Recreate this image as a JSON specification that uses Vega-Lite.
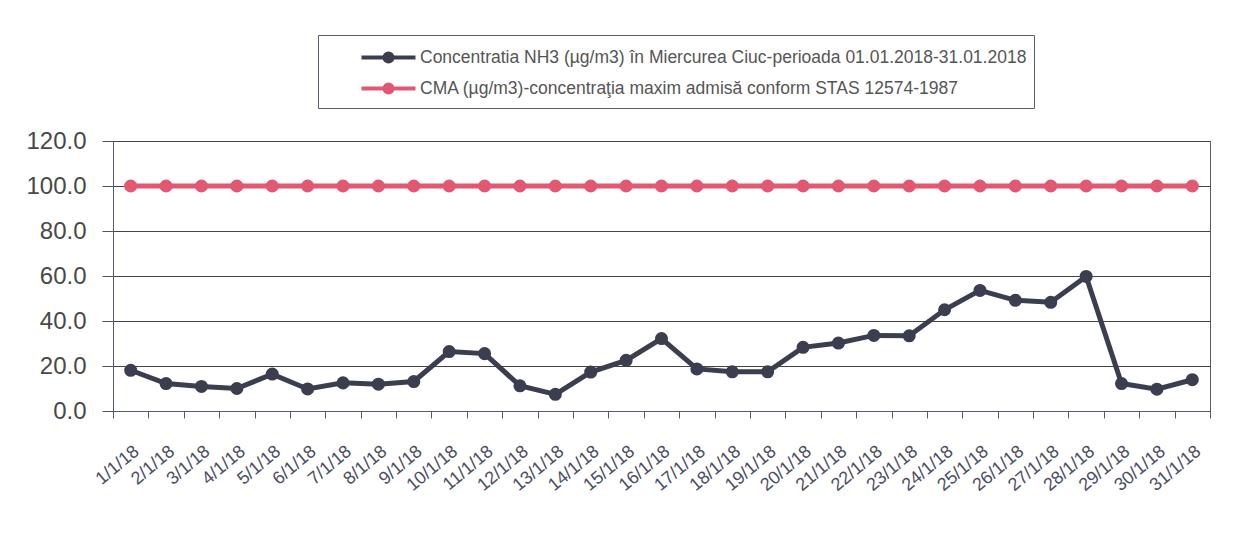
{
  "$schema": "https://vega.github.io/schema/vega-lite/v6.json",
  "width": 1097,
  "height": 270,
  "autosize": {"type": "none"},
  "padding": {"left": 113, "top": 141, "right": 49, "bottom": 136},
  "background": "white",
  "config": {
    "font": "Liberation Sans",
    "view": {"stroke": "#555a6e", "strokeWidth": 1}
  },
  "data": {
    "values": [
      {"date": "1/1/18", "series": "NH3", "value": 18.1},
      {"date": "2/1/18", "series": "NH3", "value": 12.2},
      {"date": "3/1/18", "series": "NH3", "value": 10.9},
      {"date": "4/1/18", "series": "NH3", "value": 10.0},
      {"date": "5/1/18", "series": "NH3", "value": 16.4},
      {"date": "6/1/18", "series": "NH3", "value": 9.8},
      {"date": "7/1/18", "series": "NH3", "value": 12.5},
      {"date": "8/1/18", "series": "NH3", "value": 11.9},
      {"date": "9/1/18", "series": "NH3", "value": 13.1},
      {"date": "10/1/18", "series": "NH3", "value": 26.4},
      {"date": "11/1/18", "series": "NH3", "value": 25.5},
      {"date": "12/1/18", "series": "NH3", "value": 11.2},
      {"date": "13/1/18", "series": "NH3", "value": 7.4},
      {"date": "14/1/18", "series": "NH3", "value": 17.3},
      {"date": "15/1/18", "series": "NH3", "value": 22.5},
      {"date": "16/1/18", "series": "NH3", "value": 32.2},
      {"date": "17/1/18", "series": "NH3", "value": 18.7},
      {"date": "18/1/18", "series": "NH3", "value": 17.4},
      {"date": "19/1/18", "series": "NH3", "value": 17.4},
      {"date": "20/1/18", "series": "NH3", "value": 28.3},
      {"date": "21/1/18", "series": "NH3", "value": 30.2},
      {"date": "22/1/18", "series": "NH3", "value": 33.6},
      {"date": "23/1/18", "series": "NH3", "value": 33.4},
      {"date": "24/1/18", "series": "NH3", "value": 45.0},
      {"date": "25/1/18", "series": "NH3", "value": 53.6},
      {"date": "26/1/18", "series": "NH3", "value": 49.2},
      {"date": "27/1/18", "series": "NH3", "value": 48.3},
      {"date": "28/1/18", "series": "NH3", "value": 59.8},
      {"date": "29/1/18", "series": "NH3", "value": 12.2},
      {"date": "30/1/18", "series": "NH3", "value": 9.7},
      {"date": "31/1/18", "series": "NH3", "value": 13.9},
      {"date": "1/1/18", "series": "CMA", "value": 100},
      {"date": "2/1/18", "series": "CMA", "value": 100},
      {"date": "3/1/18", "series": "CMA", "value": 100},
      {"date": "4/1/18", "series": "CMA", "value": 100},
      {"date": "5/1/18", "series": "CMA", "value": 100},
      {"date": "6/1/18", "series": "CMA", "value": 100},
      {"date": "7/1/18", "series": "CMA", "value": 100},
      {"date": "8/1/18", "series": "CMA", "value": 100},
      {"date": "9/1/18", "series": "CMA", "value": 100},
      {"date": "10/1/18", "series": "CMA", "value": 100},
      {"date": "11/1/18", "series": "CMA", "value": 100},
      {"date": "12/1/18", "series": "CMA", "value": 100},
      {"date": "13/1/18", "series": "CMA", "value": 100},
      {"date": "14/1/18", "series": "CMA", "value": 100},
      {"date": "15/1/18", "series": "CMA", "value": 100},
      {"date": "16/1/18", "series": "CMA", "value": 100},
      {"date": "17/1/18", "series": "CMA", "value": 100},
      {"date": "18/1/18", "series": "CMA", "value": 100},
      {"date": "19/1/18", "series": "CMA", "value": 100},
      {"date": "20/1/18", "series": "CMA", "value": 100},
      {"date": "21/1/18", "series": "CMA", "value": 100},
      {"date": "22/1/18", "series": "CMA", "value": 100},
      {"date": "23/1/18", "series": "CMA", "value": 100},
      {"date": "24/1/18", "series": "CMA", "value": 100},
      {"date": "25/1/18", "series": "CMA", "value": 100},
      {"date": "26/1/18", "series": "CMA", "value": 100},
      {"date": "27/1/18", "series": "CMA", "value": 100},
      {"date": "28/1/18", "series": "CMA", "value": 100},
      {"date": "29/1/18", "series": "CMA", "value": 100},
      {"date": "30/1/18", "series": "CMA", "value": 100},
      {"date": "31/1/18", "series": "CMA", "value": 100}
    ]
  },
  "mark": {"type": "line", "strokeWidth": 5, "point": {"size": 170, "filled": true}},
  "encoding": {
    "x": {
      "field": "date",
      "type": "ordinal",
      "sort": null,
      "scale": {"type": "band", "paddingInner": 0, "paddingOuter": 0},
      "axis": {
        "title": null,
        "labelAngle": -40,
        "labelFontSize": 18,
        "labelColor": "#4a4d63",
        "tickBand": "extent",
        "tickSize": 7,
        "tickColor": "#555a78",
        "domainColor": "#555a78",
        "labelPadding": 24,
        "grid": false
      }
    },
    "y": {
      "field": "value",
      "type": "quantitative",
      "scale": {"domain": [0, 120]},
      "axis": {
        "title": null,
        "values": [0, 20, 40, 60, 80, 100, 120],
        "format": ".1f",
        "labelFontSize": 24,
        "labelColor": "#484848",
        "tickSize": 11,
        "labelPadding": 16,
        "gridColor": "#444444",
        "gridWidth": 1.2,
        "domainColor": "#555a78",
        "tickColor": "#555555"
      }
    },
    "color": {
      "field": "series",
      "type": "nominal",
      "sort": null,
      "scale": {"domain": ["NH3", "CMA"], "range": ["#3a3e4e", "#e25872"]},
      "legend": {
        "title": null,
        "orient": "none",
        "legendX": 205,
        "legendY": -106,
        "direction": "vertical",
        "strokeColor": "#555a78",
        "fillColor": "white",
        "padding": 7,
        "labelFontSize": 17.5,
        "labelColor": "#555555",
        "labelLimit": 900,
        "symbolType": "M-2,0H2M-0.3,0a0.3,0.3 0 1,0 0.6,0a0.3,0.3 0 1,0 -0.6,0",
        "symbolSize": 729,
        "symbolStrokeWidth": 4,
        "symbolOffset": 48,
        "rowPadding": 3,
        "labelOffset": 16,
        "encode": {"symbols": {"update": {"fill": {"scale": "color", "field": "value"}, "stroke": {"scale": "color", "field": "value"}}}},
        "labelExpr": "datum.value === 'NH3' ? 'Concentratia NH3 (µg/m3) în Miercurea Ciuc-perioada 01.01.2018-31.01.2018' : 'CMA (µg/m3)-concentraţia maxim admisă conform STAS 12574-1987'"
      }
    }
  }
}
